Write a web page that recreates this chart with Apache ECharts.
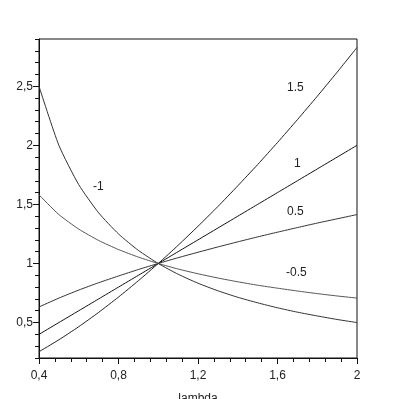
<!DOCTYPE html>
<html>
<head>
<meta charset="utf-8">
<script src="https://cdn.jsdelivr.net/npm/echarts@6/dist/echarts.min.js"></script>
<style>
  html, body { margin: 0; padding: 0; background: #fff; }
  #chart { width: 399px; height: 399px; }
</style>
</head>
<body>
<div id="chart"></div>
<script>
// lambda values along the x axis
const lambda = [0.4, 0.5, 0.6, 0.7, 0.8, 0.9, 1.0, 1.1, 1.2, 1.3, 1.4, 1.5, 1.6, 1.7, 1.8, 1.9, 2.0];

// one curve per exponent
const p15  = [0.253, 0.354, 0.465, 0.586, 0.716, 0.854, 1, 1.154, 1.315, 1.482, 1.657, 1.837, 2.024, 2.217, 2.415, 2.619, 2.828];
const p1   = [0.4, 0.5, 0.6, 0.7, 0.8, 0.9, 1, 1.1, 1.2, 1.3, 1.4, 1.5, 1.6, 1.7, 1.8, 1.9, 2.0];
const p05  = [0.632, 0.707, 0.775, 0.837, 0.894, 0.949, 1, 1.049, 1.095, 1.14, 1.183, 1.225, 1.265, 1.304, 1.342, 1.378, 1.414];
const pm05 = [1.581, 1.414, 1.291, 1.195, 1.118, 1.054, 1, 0.953, 0.913, 0.877, 0.845, 0.816, 0.791, 0.767, 0.745, 0.725, 0.707];
const pm1  = [2.5, 2.0, 1.667, 1.429, 1.25, 1.111, 1, 0.909, 0.833, 0.769, 0.714, 0.667, 0.625, 0.588, 0.556, 0.526, 0.5];

const curveNames = ['1.5', '1', '0.5', '-0.5', '-1'];
const yTickLabels = [0.5, 1, 1.5, 2, 2.5];

const chart = echarts.init(document.getElementById('chart'));

const fmt = v => String(Math.round(v * 10) / 10).replace('.', ',');
const pairs = arr => lambda.map((x, i) => [x, arr[i]]);

const lineSeries = (name, arr, color) => ({
  name: name,
  type: 'line',
  data: pairs(arr),
  showSymbol: false,
  symbol: 'none',
  smooth: 0.2,
  lineStyle: { color: color, width: 1 },
  animation: false
});

const txt = (x, y, s) => ({
  type: 'text', left: x, top: y,
  style: { text: s, fill: '#222', font: '12px Arial, "Liberation Sans", sans-serif' }
});

chart.setOption({
  backgroundColor: '#fff',
  textStyle: { fontFamily: 'Arial, "Liberation Sans", sans-serif' },
  grid: {
    left: 39, right: 42, top: 39, bottom: 41,
    outerBoundsMode: 'none',
    containLabel: false,
    show: true, borderColor: '#111', borderWidth: 1
  },
  xAxis: {
    type: 'value',
    min: 0.4, max: 2, interval: 0.4,
    name: 'lambda',
    nameLocation: 'middle',
    nameGap: 35,
    nameTextStyle: { color: '#222', fontSize: 12 },
    axisLine: { lineStyle: { color: '#111' } },
    axisTick: { length: 6, lineStyle: { color: '#111' } },
    minorTick: { show: true, splitNumber: 5, length: 4, lineStyle: { color: '#111' } },
    axisLabel: { color: '#222', fontSize: 12, margin: 12, formatter: fmt },
    splitLine: { show: false }
  },
  yAxis: [{
    type: 'value',
    min: 0.2, max: 2.9, interval: 0.1,
    axisLine: { show: true, lineStyle: { color: '#111' } },
    axisTick: { show: true, length: 4, lineStyle: { color: '#111' } },
    axisLabel: {
      color: '#222', fontSize: 12, margin: 6,
      formatter: v => yTickLabels.some(t => Math.abs(t - v) < 1e-6) ? fmt(v) : ''
    },
    splitLine: { show: false }
  }, {
    type: 'value',
    position: 'left',
    min: 0.2, max: 2.9,
    axisLine: { show: false },
    axisTick: { show: true, length: 6, customValues: yTickLabels, lineStyle: { color: '#111' } },
    axisLabel: { show: false },
    splitLine: { show: false }
  }],
  series: [
    lineSeries(curveNames[0], p15, '#222'),
    lineSeries(curveNames[1], p1, '#111'),
    lineSeries(curveNames[2], p05, '#333'),
    lineSeries(curveNames[3], pm05, '#555'),
    lineSeries(curveNames[4], pm1, '#333')
  ],
  graphic: [
    txt(287, 82, curveNames[0]),
    txt(294, 158, curveNames[1]),
    txt(287, 206, curveNames[2]),
    txt(286, 267, curveNames[3]),
    txt(93, 181, curveNames[4])
  ]
});
</script>
</body>
</html>
